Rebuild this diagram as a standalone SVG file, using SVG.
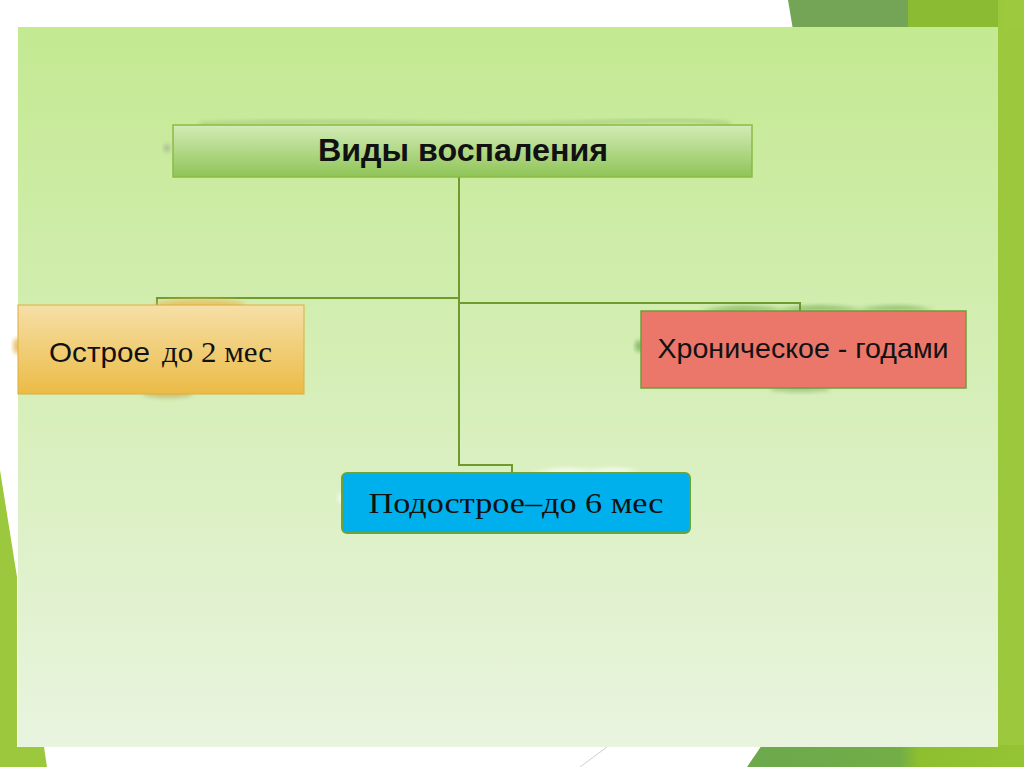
<svg xmlns="http://www.w3.org/2000/svg" width="1024" height="767" viewBox="0 0 1024 767">
<defs>
<linearGradient id="panelG" x1="0" y1="0" x2="0" y2="1">
<stop offset="0" stop-color="#c3e991"/>
<stop offset="1" stop-color="#e9f4df"/>
</linearGradient>
<linearGradient id="topG" x1="0" y1="0" x2="0" y2="1">
<stop offset="0" stop-color="#d3ecb6"/>
<stop offset="1" stop-color="#8fc457"/>
</linearGradient>
<linearGradient id="leftG" x1="0" y1="0" x2="0" y2="1">
<stop offset="0" stop-color="#f6dfa8"/>
<stop offset="1" stop-color="#ebbb45"/>
</linearGradient>
<linearGradient id="botR" x1="0" y1="0" x2="1" y2="0">
<stop offset="0" stop-color="#6ca94d"/>
<stop offset="0.55" stop-color="#72ad47"/>
<stop offset="0.62" stop-color="#8dbf2f"/>
<stop offset="1" stop-color="#95c433"/>
</linearGradient>
<filter id="blur" x="-20%" y="-50%" width="140%" height="200%">
<feGaussianBlur stdDeviation="2"/>
</filter>
<style>
.conn{fill:none;stroke:#6f9b2e;stroke-width:2}
.sans{font-family:"Liberation Sans","DejaVu Sans",sans-serif}
.serif{font-family:"Liberation Serif","DejaVu Serif",serif}
</style>
</defs>
<rect x="0" y="0" width="1024" height="767" fill="#ffffff"/>
<!-- background decorations -->
<polygon points="788,0 910,0 908,30 793,30" fill="#74a556"/>
<polygon points="908,0 1006,0 1002,30 908,30" fill="#8bba33"/>
<rect x="998" y="0" width="26" height="767" fill="#9bc83c"/>
<polygon points="1006,0 1024,0 1024,30 1002,30" fill="#9cc93d"/>
<polygon points="0,470 17,577 17,747 44,747 47,767 0,767" fill="#9bc83c"/>
<polygon points="762,745 1024,745 1024,767 747,767" fill="url(#botR)"/>
<line x1="580" y1="767" x2="607" y2="747" stroke="#cfcfcf" stroke-width="1"/>
<rect x="18" y="27" width="980" height="720" fill="url(#panelG)"/>

<!-- connectors -->
<g id="connectors">
<path class="conn" d="M459,177 V465 H512 V472"/>
<path class="conn" d="M459,298 H157 V305"/>
<path class="conn" d="M459,303 H800 V311"/>
</g>

<!-- top node -->
<g id="node-top">
<path d="M200,124 Q300,120 400,123 T600,122 T730,124" fill="none" stroke="#5e8a3a" stroke-width="2" opacity="0.5" filter="url(#blur)"/>
<ellipse cx="167" cy="148" rx="3" ry="4" fill="#9a9a8a" opacity="0.6" filter="url(#blur)"/>
<rect x="173" y="125" width="579" height="52" fill="url(#topG)" stroke="#8abb46" stroke-width="1.5"/>
<text class="sans" x="463" y="161" font-size="32" font-weight="bold" text-anchor="middle" fill="#111" textLength="290" lengthAdjust="spacingAndGlyphs">Виды воспаления</text>
</g>

<!-- left node -->
<g id="node-left">
<ellipse cx="200" cy="304" rx="45" ry="5" fill="#e8c060" opacity="0.8" filter="url(#blur)"/>
<ellipse cx="17" cy="346" rx="4" ry="8" fill="#e3b64a" opacity="0.8" filter="url(#blur)"/>
<ellipse cx="168" cy="394" rx="25" ry="4" fill="#b89a4a" opacity="0.5" filter="url(#blur)"/>
<rect x="18" y="305" width="286" height="89" fill="url(#leftG)" stroke="#dcae3c" stroke-width="1"/>
<text x="49" y="362" fill="#111"><tspan class="sans" font-size="28" textLength="101" lengthAdjust="spacingAndGlyphs">Острое</tspan><tspan class="serif" font-size="30" x="162" textLength="110" lengthAdjust="spacingAndGlyphs">до 2 мес</tspan></text>
</g>

<!-- right node -->
<g id="node-right">
<path d="M700,311 Q740,302 780,309 Q820,302 860,309 Q900,302 935,310" fill="#5c9a3a" opacity="0.6" filter="url(#blur)"/>
<ellipse cx="639" cy="346" rx="4" ry="6" fill="#5c9a3a" opacity="0.6" filter="url(#blur)"/>
<ellipse cx="800" cy="389" rx="30" ry="3" fill="#5c8a3a" opacity="0.4" filter="url(#blur)"/>
<rect x="641" y="311" width="325" height="77" fill="#ea7769" stroke="#6f9c3a" stroke-width="1.5"/>
<text class="sans" x="803" y="358" font-size="28" text-anchor="middle" fill="#111" textLength="291" lengthAdjust="spacingAndGlyphs">Хроническое - годами</text>
</g>

<!-- bottom node -->
<g id="node-bottom">
<path d="M530,474 Q560,465 590,470 Q620,465 640,472" fill="#ffffff" opacity="0.8" filter="url(#blur)"/>
<ellipse cx="341" cy="498" rx="3" ry="5" fill="#ffffff" opacity="0.8" filter="url(#blur)"/>
<rect x="342" y="473" width="348" height="60" rx="5" fill="#00b0ec" stroke="#6aa33a" stroke-width="2"/>
<text class="serif" x="516" y="513" font-size="30" text-anchor="middle" fill="#111" textLength="295" lengthAdjust="spacingAndGlyphs">Подострое–до 6 мес</text>
</g>
</svg>
